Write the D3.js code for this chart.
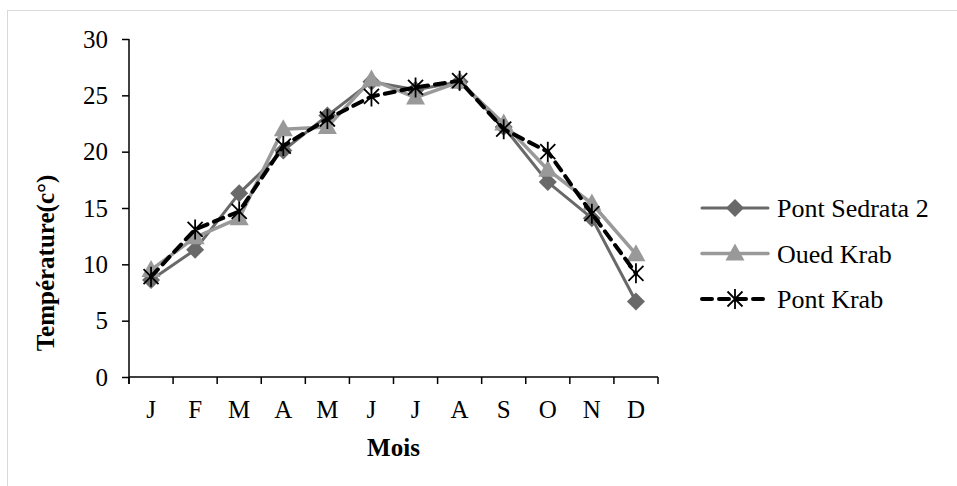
<!DOCTYPE html>
<html>
<head>
<meta charset="utf-8">
<script src="https://cdn.jsdelivr.net/npm/d3@7"></script>
<style>
  body { margin: 0; background: #fff; }
  svg { display: block; font-family: "Liberation Serif", "Times New Roman", serif; }
</style>
</head>
<body>
<svg width="957" height="486"></svg>
<script>
// Data
const months = ['J', 'F', 'M', 'A', 'M', 'J', 'J', 'A', 'S', 'O', 'N', 'D'];
const pontSedrata = [8.6, 11.3, 16.3, 20.1, 23.2, 26.2, 25.5, 26.2, 22.2, 17.3, 14.1, 6.7];
const ouedKrab = [9.5, 12.4, 14.1, 22.0, 22.2, 26.4, 24.8, 26.2, 22.5, 18.4, 15.4, 10.9];
const pontKrab = [8.9, 13.1, 14.7, 20.5, 22.9, 24.9, 25.7, 26.3, 22.0, 20.0, 14.5, 9.2];
const yTicks = [0, 5, 10, 15, 20, 25, 30];

const series = [
  {name: 'Pont Sedrata 2', values: pontSedrata, color: '#696969', width: 3, dash: null, marker: 'diamond'},
  {name: 'Oued Krab', values: ouedKrab, color: '#999999', width: 3.5, dash: null, marker: 'triangle'},
  {name: 'Pont Krab', values: pontKrab, color: '#000000', width: 4, dash: '10,7', marker: 'star'}
];

// Layout
const margin = {top: 39, left: 129, right: 299, bottom: 109};
const width = 957 - margin.left - margin.right;
const height = 486 - margin.top - margin.bottom;
const fs = 25;

const svg = d3.select('svg');

// outer frame
svg.append('rect')
  .attr('x', 7.5).attr('y', 10.5)
  .attr('width', 1000).attr('height', 600)
  .attr('fill', 'none').attr('stroke', '#d9d9d9').attr('stroke-width', 1);

const chart = svg.append('g')
  .attr('transform', 'translate(' + margin.left + ',' + margin.top + ')');

const x = d3.scaleBand().domain(d3.range(months.length)).range([0, width]);
const y = d3.scaleLinear().domain([0, 30]).range([height, 0]);

// axes
const yAxis = d3.axisLeft(y).tickValues(yTicks).tickSize(7).tickPadding(14);
const gy = chart.append('g').call(yAxis);
gy.select('.domain').attr('d', 'M0,' + (height + 7) + 'V0').attr('stroke-width', 1.5);

const xAxis = d3.axisBottom(x).tickFormat(i => months[i]).tickSize(0).tickPadding(23);
const gx = chart.append('g').attr('transform', 'translate(0,' + height + ')').call(xAxis);
gx.select('.domain').attr('d', 'M0,0H' + width).attr('stroke-width', 1.5);
// tick marks between categories
gx.selectAll('.sep')
  .data(d3.range(months.length + 1)).enter()
  .append('line')
  .attr('x1', i => i * x.step()).attr('x2', i => i * x.step())
  .attr('y1', 0).attr('y2', 7)
  .attr('stroke', '#000').attr('stroke-width', 1.5);

[gx, gy].forEach(g => {
  g.selectAll('text').attr('font-size', fs).attr('font-family', '"Liberation Serif", serif').attr('fill', '#000');
  g.selectAll('.tick line').attr('stroke-width', 1.5);
});

// axis titles
chart.append('text')
  .text('Mois')
  .attr('x', width / 2).attr('y', height + 79)
  .attr('text-anchor', 'middle')
  .attr('font-size', fs).attr('font-weight', 'bold');

chart.append('text')
  .text('Température(c°)')
  .attr('transform', 'translate(-75,' + (height / 2 + 55) + ') rotate(-90)')
  .attr('text-anchor', 'middle')
  .attr('font-size', fs).attr('font-weight', 'bold');

// markers
function drawMarker(g, type, color, cx, cy) {
  if (type === 'diamond') {
    g.append('path')
      .attr('d', 'M0,-9L9,0L0,9L-9,0Z')
      .attr('transform', 'translate(' + cx + ',' + cy + ')')
      .attr('fill', color);
  } else if (type === 'triangle') {
    g.append('path')
      .attr('d', 'M0,-10L9.5,7H-9.5Z')
      .attr('transform', 'translate(' + cx + ',' + cy + ')')
      .attr('fill', color);
  } else {
    g.append('path')
      .attr('d', 'M-7.5,-7.5L7.5,7.5M-7.5,7.5L7.5,-7.5M0,-10V10')
      .attr('transform', 'translate(' + cx + ',' + cy + ')')
      .attr('stroke', color).attr('stroke-width', 1.8).attr('fill', 'none');
  }
}

const line = d3.line().x((d, i) => x(i) + x.bandwidth() / 2).y(d => y(d));

series.forEach(s => {
  const g = chart.append('g');
  g.append('path')
    .datum(s.values)
    .attr('d', line)
    .attr('fill', 'none')
    .attr('stroke', s.color)
    .attr('stroke-width', s.width)
    .attr('stroke-linejoin', 'round')
    .attr('stroke-linecap', 'round')
    .attr('stroke-dasharray', s.dash);
  s.values.forEach((v, i) => drawMarker(g, s.marker, s.color, x(i) + x.bandwidth() / 2, y(v)));
});

// legend
const legend = svg.append('g');
series.forEach((s, k) => {
  const ly = 208 + k * 45.5;
  legend.append('line')
    .attr('x1', 702).attr('x2', 768).attr('y1', ly).attr('y2', ly)
    .attr('stroke', s.color).attr('stroke-width', s.width)
    .attr('stroke-linecap', 'round')
    .attr('stroke-dasharray', s.dash);
  drawMarker(legend, s.marker, s.color, 735, ly);
  legend.append('text')
    .text(s.name)
    .attr('x', 777).attr('y', ly)
    .attr('dy', '0.35em')
    .attr('font-size', 26);
});
</script>
</body>
</html>
